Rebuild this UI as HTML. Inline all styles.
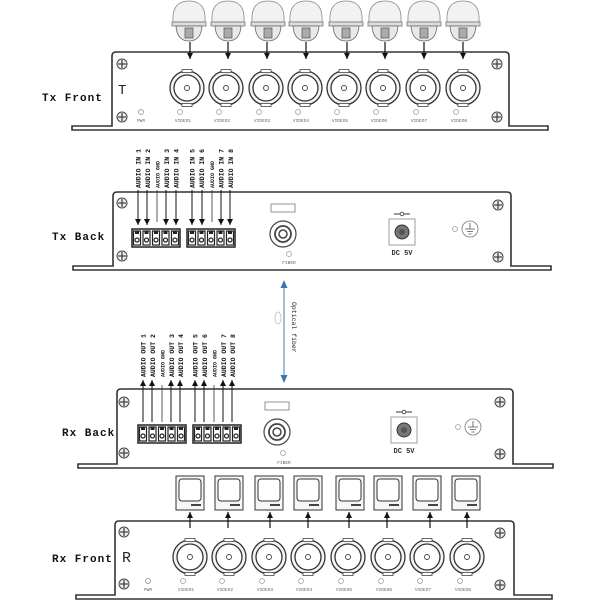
<!DOCTYPE html>
<html><head><meta charset="utf-8"><style>
html,body{margin:0;padding:0;background:#fff;}
svg{display:block;}
text{font-family:"Liberation Mono","DejaVu Sans Mono",monospace;}
</style></head><body>
<svg width="600" height="600" viewBox="0 0 600 600" xmlns="http://www.w3.org/2000/svg">
<defs>
<g id="bnc">
  <circle r="17" fill="#f4f4f4" stroke="#333" stroke-width="1.3"/>
  <circle r="13" fill="#fff" stroke="#333" stroke-width="1.3"/>
  <circle r="2.5" fill="none" stroke="#444" stroke-width="0.9"/>
  <rect x="-5" y="-18.5" width="10" height="3" fill="#fff" stroke="#444" stroke-width="0.8"/>
  <rect x="-5" y="15.5" width="10" height="3" fill="#fff" stroke="#444" stroke-width="0.8"/>
</g>
<g id="screw">
  <circle r="5" fill="#eee" stroke="#444" stroke-width="1"/>
  <path d="M-4 0H4M0 -4V4" stroke="#444" stroke-width="1.3"/>
</g>
<g id="cam">
  <path d="M-16 22 C-17 6 -10 1 0 1 C10 1 17 6 16 22 Z" fill="#f2f2f2" stroke="#888" stroke-width="0.8"/>
  <rect x="-17" y="22" width="34" height="4" fill="#ddd" stroke="#777" stroke-width="0.8"/>
  <path d="M-13 26 Q-12 41 0 41 Q12 41 13 26 Z" fill="#e8e8e8" stroke="#666" stroke-width="0.8"/>
  <rect x="-4" y="28" width="8" height="10" fill="#aaa" stroke="#555" stroke-width="0.7"/>
</g>
<g id="mon">
  <rect x="-14" y="0" width="28" height="34" fill="#f6f6f6" stroke="#333" stroke-width="1"/>
  <rect x="-11" y="3" width="22" height="22" rx="3" fill="#fff" stroke="#333" stroke-width="1"/>
  <rect x="1" y="28" width="10" height="2" fill="#444"/>
</g>
<g id="tb">
  <rect x="0" y="0" width="48" height="18" fill="#fff" stroke="#222" stroke-width="1.5"/>
  <g fill="#fff" stroke="#222" stroke-width="1.2">
    <rect x="1.5" y="2" width="7" height="14"/><rect x="11" y="2" width="7" height="14"/><rect x="20.5" y="2" width="7" height="14"/><rect x="30" y="2" width="7" height="14"/><rect x="39.5" y="2" width="7" height="14"/>
    <circle cx="5" cy="11" r="2"/><circle cx="14.5" cy="11" r="2"/><circle cx="24" cy="11" r="2"/><circle cx="33.5" cy="11" r="2"/><circle cx="43" cy="11" r="2"/>
  </g>
  <g fill="#222"><rect x="3" y="2" width="4" height="3"/><rect x="12.5" y="2" width="4" height="3"/><rect x="22" y="2" width="4" height="3"/><rect x="31.5" y="2" width="4" height="3"/><rect x="41" y="2" width="4" height="3"/></g>
</g>
<g id="fib">
  <rect x="-12" y="-30" width="24" height="8" fill="#fff" stroke="#666" stroke-width="0.7"/>
  <circle r="13" fill="#fff" stroke="#444" stroke-width="1.2"/>
  <circle r="8" fill="none" stroke="#444" stroke-width="1.8"/>
  <circle r="4" fill="none" stroke="#444" stroke-width="1.5"/>
</g>
<g id="dc">
  <rect x="-13" y="-13" width="26" height="26" fill="#fff" stroke="#888" stroke-width="0.8"/>
  <circle r="7" fill="#777" stroke="#333" stroke-width="1"/>
  <circle r="3" fill="#555"/>
  <path d="M-8 -18H8M0 -18" stroke="#333" stroke-width="1"/>
  <circle cx="0" cy="-18" r="1.8" fill="#fff" stroke="#333" stroke-width="0.8"/>
  <text x="0" y="23" font-size="7" text-anchor="middle" font-weight="bold" fill="#333" font-family="Liberation Serif,serif">DC 5V</text>
</g>
<g id="gnd">
  <circle cx="-15" r="2.5" fill="none" stroke="#999" stroke-width="0.7"/>
  <circle r="8" fill="#fff" stroke="#777" stroke-width="0.8"/>
  <path d="M0 -6V0M-5 0H5M-3 2.5H3M-1.5 5H1.5" stroke="#555" stroke-width="0.8"/>
</g>
<marker id="ad" markerWidth="7" markerHeight="6" refX="6" refY="3" orient="auto" markerUnits="userSpaceOnUse"><path d="M0 0L6 3L0 6Z" fill="#111"/></marker>
</defs>

<g fill="none" stroke="#333" stroke-width="1.6">
<path d="M72 130H548V126H509V56Q509 52 505 52H116Q112 52 112 56V126H72Z"/>
<path d="M73 270H551V266H511V196Q511 192 507 192H117Q113 192 113 196V266H73Z"/>
<path d="M78 468H553V464H513V393Q513 389 509 389H121Q117 389 117 393V464H78Z"/>
<path d="M76 599H552V595H514V525Q514 521 510 521H119Q115 521 115 525V595H76Z"/>
</g>

<!-- TX FRONT -->
<text x="42" y="101" font-size="11" fill="#111" font-weight="bold" letter-spacing="1">Tx Front</text>
<text x="118" y="94" font-size="14" fill="#222" font-family="Liberation Serif,serif">T</text>
<use href="#screw" x="122" y="64"/><use href="#screw" x="122" y="117"/>
<use href="#screw" x="497" y="64"/><use href="#screw" x="497" y="117"/>
<circle cx="141" cy="112" r="2.5" fill="none" stroke="#888" stroke-width="0.7"/>
<text x="141" y="122" font-size="4.5" fill="#666" text-anchor="middle">PWR</text>
<use href="#bnc" x="187" y="88"/><use href="#bnc" x="226" y="88"/><use href="#bnc" x="266" y="88"/><use href="#bnc" x="305" y="88"/>
<use href="#bnc" x="344" y="88"/><use href="#bnc" x="383" y="88"/><use href="#bnc" x="423" y="88"/><use href="#bnc" x="463" y="88"/>
<g fill="none" stroke="#999" stroke-width="0.7">
<circle cx="180" cy="112" r="2.5"/><circle cx="219" cy="112" r="2.5"/><circle cx="259" cy="112" r="2.5"/><circle cx="298" cy="112" r="2.5"/><circle cx="337" cy="112" r="2.5"/><circle cx="376" cy="112" r="2.5"/><circle cx="416" cy="112" r="2.5"/><circle cx="456" cy="112" r="2.5"/>
</g>
<g font-size="4.5" fill="#666" text-anchor="middle">
<text x="183" y="122">VIDEO1</text><text x="222" y="122">VIDEO2</text><text x="262" y="122">VIDEO3</text><text x="301" y="122">VIDEO4</text><text x="340" y="122">VIDEO5</text><text x="379" y="122">VIDEO6</text><text x="419" y="122">VIDEO7</text><text x="459" y="122">VIDEO8</text>
</g>
<use href="#cam" x="189" y="0"/><use href="#cam" x="228" y="0"/><use href="#cam" x="268" y="0"/><use href="#cam" x="306" y="0"/>
<use href="#cam" x="346" y="0"/><use href="#cam" x="385" y="0"/><use href="#cam" x="424" y="0"/><use href="#cam" x="463" y="0"/>
<g stroke="#111" stroke-width="1.2" marker-end="url(#ad)">
<line x1="190" y1="42" x2="190" y2="59"/><line x1="228" y1="42" x2="228" y2="59"/><line x1="267" y1="42" x2="267" y2="59"/><line x1="306" y1="42" x2="306" y2="59"/>
<line x1="347" y1="42" x2="347" y2="59"/><line x1="385" y1="42" x2="385" y2="59"/><line x1="424" y1="42" x2="424" y2="59"/><line x1="463" y1="42" x2="463" y2="59"/>
</g>

<!-- TX BACK -->
<text x="52" y="240" font-size="11" fill="#111" font-weight="bold" letter-spacing="1">Tx Back</text>
<use href="#screw" x="122" y="203"/><use href="#screw" x="122" y="256"/>
<use href="#screw" x="498" y="205"/><use href="#screw" x="498" y="257"/>
<use href="#tb" x="132" y="229"/><use href="#tb" x="187" y="229"/>
<g stroke="#111" stroke-width="1" marker-end="url(#ad)">
<line x1="138" y1="190" x2="138" y2="225"/><line x1="147" y1="190" x2="147" y2="225"/><line x1="166" y1="190" x2="166" y2="225"/><line x1="176" y1="190" x2="176" y2="225"/>
<line x1="192" y1="190" x2="192" y2="225"/><line x1="202" y1="190" x2="202" y2="225"/><line x1="221" y1="190" x2="221" y2="225"/><line x1="230" y1="190" x2="230" y2="225"/>
</g>
<g stroke="#333" stroke-width="0.8"><line x1="157" y1="190" x2="157" y2="222"/><line x1="212" y1="190" x2="212" y2="222"/></g>
<g font-size="6.5" fill="#111" font-weight="bold">
<text transform="translate(140.5,188) rotate(-90)">AUDIO IN 1</text>
<text transform="translate(150,188) rotate(-90)">AUDIO IN 2</text>
<text transform="translate(159.5,188) rotate(-90)" font-size="5">AUDIO GND</text>
<text transform="translate(169,188) rotate(-90)">AUDIO IN 3</text>
<text transform="translate(178.5,188) rotate(-90)">AUDIO IN 4</text>
<text transform="translate(194.5,188) rotate(-90)">AUDIO IN 5</text>
<text transform="translate(204,188) rotate(-90)">AUDIO IN 6</text>
<text transform="translate(214,188) rotate(-90)" font-size="5">AUDIO GND</text>
<text transform="translate(223.5,188) rotate(-90)">AUDIO IN 7</text>
<text transform="translate(233,188) rotate(-90)">AUDIO IN 8</text>
</g>
<use href="#fib" x="283" y="234"/>
<circle cx="289" cy="254" r="2.5" fill="none" stroke="#999" stroke-width="0.7"/>
<text x="289" y="264" font-size="4.5" fill="#666" text-anchor="middle">FIBER</text>
<use href="#dc" x="402" y="232"/>
<use href="#gnd" x="470" y="229"/>

<!-- fiber -->
<line x1="284" y1="283" x2="284" y2="380" stroke="#4a7fb8" stroke-width="1"/>
<path d="M280.5 288L284 280L287.5 288Z M280.5 375L284 383L287.5 375Z" fill="#3a76b5"/>
<ellipse cx="278" cy="318" rx="3" ry="6" fill="none" stroke="#bbb" stroke-width="0.8"/>
<text transform="translate(292,302) rotate(90)" font-size="6.5" fill="#222">Optical fiber</text>

<!-- RX BACK -->
<text x="62" y="436" font-size="11" fill="#111" font-weight="bold" letter-spacing="1">Rx Back</text>
<use href="#screw" x="124" y="402"/><use href="#screw" x="124" y="453"/>
<use href="#screw" x="500" y="402"/><use href="#screw" x="500" y="454"/>
<use href="#tb" x="138" y="425"/><use href="#tb" x="193" y="425"/>
<g stroke="#111" stroke-width="1" marker-end="url(#ad)">
<line x1="143" y1="422" x2="143" y2="380"/><line x1="152" y1="422" x2="152" y2="380"/><line x1="171" y1="422" x2="171" y2="380"/><line x1="180" y1="422" x2="180" y2="380"/>
<line x1="195" y1="422" x2="195" y2="380"/><line x1="204" y1="422" x2="204" y2="380"/><line x1="223" y1="422" x2="223" y2="380"/><line x1="232" y1="422" x2="232" y2="380"/>
</g>
<g stroke="#333" stroke-width="0.8"><line x1="162" y1="422" x2="162" y2="385"/><line x1="214" y1="422" x2="214" y2="385"/></g>
<g font-size="6.5" fill="#111" font-weight="bold">
<text transform="translate(145.5,377) rotate(-90)">AUDIO OUT 1</text>
<text transform="translate(155,377) rotate(-90)">AUDIO OUT 2</text>
<text transform="translate(164.5,377) rotate(-90)" font-size="5">AUDIO GND</text>
<text transform="translate(174,377) rotate(-90)">AUDIO OUT 3</text>
<text transform="translate(183,377) rotate(-90)">AUDIO OUT 4</text>
<text transform="translate(197.5,377) rotate(-90)">AUDIO OUT 5</text>
<text transform="translate(207,377) rotate(-90)">AUDIO OUT 6</text>
<text transform="translate(216.5,377) rotate(-90)" font-size="5">AUDIO GND</text>
<text transform="translate(226,377) rotate(-90)">AUDIO OUT 7</text>
<text transform="translate(235,377) rotate(-90)">AUDIO OUT 8</text>
</g>
<use href="#fib" x="277" y="432"/>
<circle cx="283" cy="453" r="2.5" fill="none" stroke="#999" stroke-width="0.7"/>
<text x="284" y="464" font-size="4.5" fill="#666" text-anchor="middle">FIBER</text>
<use href="#dc" x="404" y="430"/>
<use href="#gnd" x="473" y="427"/>

<!-- RX FRONT -->
<text x="52" y="562" font-size="11" fill="#111" font-weight="bold" letter-spacing="1">Rx Front</text>
<text x="122" y="562" font-size="15" fill="#222" font-family="Liberation Serif,serif">R</text>
<use href="#screw" x="124" y="532"/><use href="#screw" x="124" y="584"/>
<use href="#screw" x="500" y="533"/><use href="#screw" x="500" y="585"/>
<circle cx="148" cy="581" r="2.5" fill="none" stroke="#888" stroke-width="0.7"/>
<text x="148" y="591" font-size="4.5" fill="#666" text-anchor="middle">PWR</text>
<use href="#bnc" x="190" y="557"/><use href="#bnc" x="229" y="557"/><use href="#bnc" x="269" y="557"/><use href="#bnc" x="308" y="557"/>
<use href="#bnc" x="348" y="557"/><use href="#bnc" x="388" y="557"/><use href="#bnc" x="427" y="557"/><use href="#bnc" x="467" y="557"/>
<g fill="none" stroke="#999" stroke-width="0.7">
<circle cx="183" cy="581" r="2.5"/><circle cx="222" cy="581" r="2.5"/><circle cx="262" cy="581" r="2.5"/><circle cx="301" cy="581" r="2.5"/><circle cx="341" cy="581" r="2.5"/><circle cx="381" cy="581" r="2.5"/><circle cx="420" cy="581" r="2.5"/><circle cx="460" cy="581" r="2.5"/>
</g>
<g font-size="4.5" fill="#666" text-anchor="middle">
<text x="186" y="591">VIDEO1</text><text x="225" y="591">VIDEO2</text><text x="265" y="591">VIDEO3</text><text x="304" y="591">VIDEO4</text><text x="344" y="591">VIDEO5</text><text x="384" y="591">VIDEO6</text><text x="423" y="591">VIDEO7</text><text x="463" y="591">VIDEO8</text>
</g>
<use href="#mon" x="190" y="476"/><use href="#mon" x="229" y="476"/><use href="#mon" x="269" y="476"/><use href="#mon" x="308" y="476"/>
<use href="#mon" x="350" y="476"/><use href="#mon" x="388" y="476"/><use href="#mon" x="427" y="476"/><use href="#mon" x="466" y="476"/>
<g stroke="#111" stroke-width="1.2" marker-end="url(#ad)">
<line x1="190" y1="528" x2="190" y2="512"/><line x1="228" y1="528" x2="228" y2="512"/><line x1="270" y1="528" x2="270" y2="512"/><line x1="308" y1="528" x2="308" y2="512"/>
<line x1="349" y1="528" x2="349" y2="512"/><line x1="387" y1="528" x2="387" y2="512"/><line x1="430" y1="528" x2="430" y2="512"/><line x1="467" y1="528" x2="467" y2="512"/>
</g>
</svg>
</body></html>
